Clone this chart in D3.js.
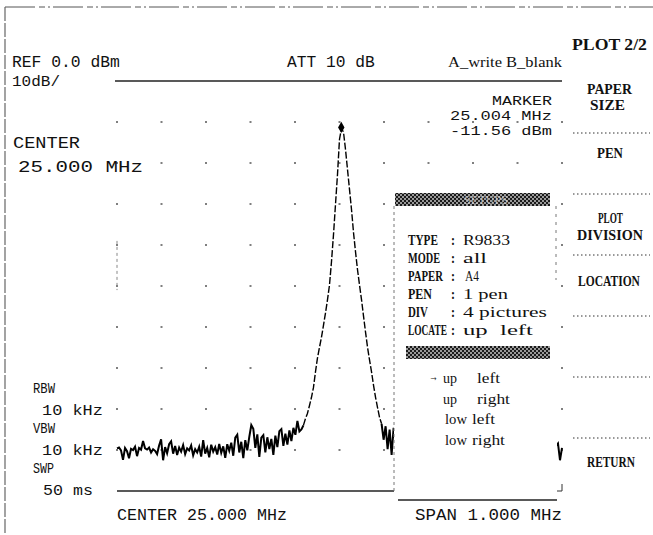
<!DOCTYPE html>
<html><head><meta charset="utf-8">
<script src="https://cdn.jsdelivr.net/npm/d3@7/dist/d3.min.js"></script>
<style>html,body{margin:0;padding:0;background:#fff;overflow:hidden}</style>
</head><body><svg id="c" width="653" height="535"></svg>
<script>
// ================= DATA =================
const sweepStartMHz = 24.5;
const sweepStopMHz = 25.5;
const refLevelDbm = 0;
const bottomLevelDbm = -100;
// trace levels (dBm), one per sweep point, evenly spaced from start to stop
const traceDbm = [
 -89.6,-89.4,-90.1,-92.4,-89.5,-90.3,-92.0,-89.7,-90.0,-89.2,
 -91.5,-89.5,-89.9,-87.8,-89.6,-89.9,-89.4,-90.6,-89.8,-90.2,
 -91.0,-88.9,-87.4,-92.5,-89.3,-90.8,-88.6,-87.9,-90.9,-89.0,
 -91.2,-89.4,-90.4,-88.8,-91.0,-89.6,-90.1,-88.9,-91.3,-89.8,
 -90.6,-89.2,-91.6,-87.6,-90.9,-89.5,-91.8,-88.7,-90.4,-89.3,
 -91.1,-88.5,-90.7,-89.1,-91.9,-88.6,-90.2,-88.2,-91.4,-87.0,
 -86.3,-90.6,-88.0,-92.0,-87.6,-90.1,-86.8,-83.9,-84.8,-89.5,
 -86.2,-91.7,-87.0,-86.4,-90.6,-86.9,-89.8,-87.3,-91.2,-86.5,
 -89.3,-85.4,-84.9,-89.0,-86.0,-88.7,-85.2,-87.8,-84.6,-86.3,
 -82.9,-85.5,-85.0,-84.0,-82.4,-81.1,-79.2,-77.2,-74.8,-71.0,
 -67.6,-65.0,-62.5,-59.6,-56.6,-53.4,-49.8,-44.1,-37.5,-30.1,
 -22.8,-14.2,-11.56,-12.5,-16.7,-21.6,-26.5,-31.4,-37.0,-41.7,
 -46.1,-49.8,-53.4,-57.4,-61.3,-65.0,-68.1,-71.0,-74.3,-77.2,
 -79.7,-82.1,-83.6,-87.5,-84.2,-89.8,-85.0,-91.2,-84.6,-88.0,
 -82.8,
 -88.4,-90.6,-87.9,-91.2,-89.0,-90.3,-88.1,-91.5,-89.4,-90.0,
 -88.7,-91.8,-89.2,-90.5,-88.3,-91.0,-89.7,-90.2,-88.9,-91.4,
 -89.1,-90.7,-88.5,-91.6,-89.5,-90.1,-88.2,-91.1,-89.8,-90.4,
 -88.6,-91.7,-89.3,-90.8,-88.8,-91.3,-89.6,-90.0,-88.4,-91.9,
 -89.0,-90.6,-88.7,-91.2,-89.4,-90.3,-88.1,-91.5,-89.9,-90.2,
 -88.6,-91.0,-89.2,-90.9,-88.3,-91.4,-89.7,-90.5,-88.9,-91.8,
 -89.1,-90.1,-88.5,-91.3,-89.5,-90.7,-88.2,-91.6,-89.8,-90.0,
 -88.8,-91.1,-89.3,-90.4,-88.4,-91.7,-89.6,-90.8,
 -89.0,-88.4,-92.5,-89.5
];
const markerFreqMHz = [25.004];
const markerLevelDbm = [-11.56];

const headerTexts = ["REF 0.0 dBm", "10dB/", "ATT 10 dB", "A_write B_blank"];
const markerTexts = ["MARKER", "25.004 MHz", "-11.56 dBm"];
const centerTexts = ["CENTER", "25.000 MHz"];
const bwTexts = ["RBW", "10 kHz", "VBW", "10 kHz", "SWP", "50 ms"];
const footerTexts = ["CENTER 25.000 MHz", "SPAN 1.000 MHz"];
const softkeyTitle = "PLOT 2/2";
const softkeyLines = ["PAPER", "SIZE", "PEN", "PLOT", "DIVISION", "LOCATION", "RETURN"];
const popupTitle = "SETUPS";
const popupKeys = ["TYPE", "MODE", "PAPER", "PEN", "DIV", "LOCATE"];
const popupValues = ["R9833", "all", "A4", "1 pen", "4 pictures", "up  left"];
const locationOptions = [["up", "left"], ["up", "right"], ["low", "left"], ["low", "right"]];

// ================= DRAW =================
const svg = d3.select("#c");
const x = d3.scaleLinear().domain([sweepStartMHz, sweepStopMHz]).range([117, 562]);
const y = d3.scaleLinear().domain([refLevelDbm, bottomLevelDbm]).range([81, 491]);
const step = (sweepStopMHz - sweepStartMHz) / (traceDbm.length - 1);
const trace = traceDbm.map((v, i) => ({f: sweepStartMHz + i * step, v, i}));

const MONO = "'Liberation Mono', 'DejaVu Sans Mono', monospace";
const SERIF = "'Liberation Serif', 'DejaVu Serif', serif";
// text squeezed horizontally to span x0..x1
function T(s, x0, x1, yb, fam, size, fill, weight) {
  const t = svg.append("text").attr("x", 0).attr("y", 0)
    .attr("font-family", fam).attr("font-size", size).attr("fill", fill || "#111")
    .attr("font-weight", weight || "normal")
    .style("white-space", "pre").text(s);
  const w = t.node().getComputedTextLength() || 1;
  t.attr("transform", `translate(${x0},${yb}) scale(${((x1 - x0) / w).toFixed(4)},1)`);
  return t;
}

// pattern for hatched bars
const defs = svg.append("defs");
const pat = defs.append("pattern").attr("id", "hatch").attr("width", 4).attr("height", 4)
  .attr("patternUnits", "userSpaceOnUse");
pat.append("rect").attr("width", 4).attr("height", 4).attr("fill", "#999");
pat.append("rect").attr("x", 0).attr("y", 0).attr("width", 2).attr("height", 2).attr("fill", "#1a1a1a");
pat.append("rect").attr("x", 2).attr("y", 2).attr("width", 2).attr("height", 2).attr("fill", "#1a1a1a");

// page borders
svg.append("line").attr("x1", 5).attr("x2", 653).attr("y1", 7).attr("y2", 7)
  .attr("stroke", "#555").attr("stroke-width", 1).attr("stroke-dasharray", "30 4 6 3 2 3");
svg.append("line").attr("x1", 5).attr("x2", 5).attr("y1", 7).attr("y2", 535)
  .attr("stroke", "#666").attr("stroke-width", 1.2).attr("stroke-dasharray", "14 2");

// graticule dots
const gx = d3.range(0, 11).map(k => sweepStartMHz + k * (sweepStopMHz - sweepStartMHz) / 10);
const gy = y.ticks(10).filter(v => v < refLevelDbm && v > bottomLevelDbm);
const dots = [];
gx.forEach(f => gy.forEach(v => dots.push([f, v])));
svg.append("g").selectAll("rect").data(dots).join("rect")
  .attr("x", d => x(d[0]) - 1).attr("y", d => y(d[1]) - 0.75)
  .attr("width", 2).attr("height", 1.5).attr("fill", "#555");
svg.append("line").attr("x1", x(sweepStartMHz)).attr("x2", x(sweepStartMHz))
  .attr("y1", y(-39)).attr("y2", y(-51)).attr("stroke", "#888").attr("stroke-dasharray", "3 3");

// top & bottom graticule lines
svg.append("line").attr("x1", 115).attr("x2", x(sweepStopMHz)).attr("y1", y(refLevelDbm)).attr("y2", y(refLevelDbm))
  .attr("stroke", "#222").attr("stroke-width", 1.4);
svg.append("line").attr("x1", x(sweepStartMHz)).attr("x2", 397).attr("y1", y(bottomLevelDbm)).attr("y2", y(bottomLevelDbm))
  .attr("stroke", "#222").attr("stroke-width", 1.4);

// trace: noise solid & dense, steep skirts dashed
const line = d3.line().x(d => x(d.f)).y(d => y(d.v));
svg.append("path").datum(trace.filter(d => d.i <= 93)).attr("d", line).attr("fill", "none")
  .attr("stroke", "#000").attr("stroke-width", 2);
svg.append("path").datum(trace.filter(d => d.i >= 93 && d.i <= 132)).attr("d", line).attr("fill", "none")
  .attr("stroke", "#000").attr("stroke-width", 1.4).attr("stroke-dasharray", "7 2");
svg.append("path").datum(trace.filter(d => d.i >= 132)).attr("d", line).attr("fill", "none")
  .attr("stroke", "#000").attr("stroke-width", 2);

// marker
svg.append("g").selectAll("path").data(markerFreqMHz).join("path")
  .attr("transform", (d, i) => `translate(${x(d)},${y(markerLevelDbm[i]) - 1})`)
  .attr("d", d3.symbol().type(d3.symbolDiamond).size(36)).attr("fill", "#000");

// popup panel (covers trace)
svg.append("rect").attr("x", 394).attr("y", 189).attr("width", 163).attr("height", 303).attr("fill", "#fff");
svg.append("line").attr("x1", 394).attr("x2", 394).attr("y1", 206).attr("y2", 492)
  .attr("stroke", "#777").attr("stroke-dasharray", "3 3");
svg.append("line").attr("x1", 556).attr("x2", 556).attr("y1", 206).attr("y2", 280)
  .attr("stroke", "#777").attr("stroke-dasharray", "3 5");
svg.append("path").attr("d", "M557,491 L562,491 L562,484").attr("fill", "none").attr("stroke", "#333");
svg.append("rect").attr("x", 395).attr("y", 193).attr("width", 155).attr("height", 13).attr("fill", "url(#hatch)");
T(popupTitle, 464, 508, 204, SERIF, 13, "#eee").attr("opacity", 0.6);
svg.append("rect").attr("x", 406).attr("y", 346).attr("width", 144).attr("height", 13).attr("fill", "url(#hatch)");
svg.append("line").attr("x1", 398).attr("x2", 557).attr("y1", 500).attr("y2", 500)
  .attr("stroke", "#222").attr("stroke-width", 1.4);

// popup rows
const keyEnds = [438, 440, 443, 432, 428, 447];
const valEnds = [510, 487, 479, 508, 547, 533];
popupKeys.forEach((k, i) => {
  const yb = 245 + i * 18;
  T(k, 408, keyEnds[i], yb, SERIF, 15, null, "bold");
  T(":", 451, 455, yb, SERIF, 15, null, "bold");
  T(popupValues[i], i === 2 ? 465 : 463, valEnds[i], yb, SERIF, 15);
});
// location options
T("\u2192", 429, 438, 381, SERIF, 14, null, "bold");
locationOptions.forEach((o, i) => {
  const yb = 383 + i * 20.5;
  const low = o[0] === "low";
  T(o[0], low ? 445 : 443, low ? 467 : 457, yb, SERIF, 15);
  const x0 = low ? 472 : 477;
  T(o[1], x0, x0 + (o[1] === "left" ? 23 : 33), yb, SERIF, 15);
});

// header texts
T(headerTexts[0], 12, 120, 67, MONO, 16);
T(headerTexts[1], 12, 60, 86, MONO, 15);
T(headerTexts[2], 287, 375, 67, MONO, 16);
T(headerTexts[3], 448, 562, 67, SERIF, 15);
// marker readout
T(markerTexts[0], 492, 552, 104.5, MONO, 13);
T(markerTexts[1], 450, 552, 119.5, MONO, 13);
T(markerTexts[2], 450, 552, 134.5, MONO, 13);
// center
T(centerTexts[0], 13, 80, 148, MONO, 17);
T(centerTexts[1], 18, 143, 172, MONO, 17);
// bandwidths
const bwX = [[33, 55], [42, 103], [33, 55], [42, 103], [33, 54], [43, 93]];
const bwY = [393, 415, 433, 455, 473, 495];
bwTexts.forEach((s, i) => T(s, bwX[i][0], bwX[i][1], bwY[i], MONO, 15));
// footer
T(footerTexts[0], 117, 287, 520, MONO, 16);
T(footerTexts[1], 415, 562, 520, MONO, 16);

// softkeys
T(softkeyTitle, 572, 647, 50, SERIF, 17, null, "bold");
const skX = [[587, 632], [590, 625], [597, 623], [598, 623], [577, 643], [578, 640], [587, 635]];
const skY = [94, 110, 158, 223, 240, 286, 467];
const skSize = [14, 14, 15, 14, 14, 15, 15];
softkeyLines.forEach((s, i) => T(s, skX[i][0], skX[i][1], skY[i], SERIF, skSize[i], null, "bold"));
[133, 194, 255, 316, 377, 438].forEach(sy => {
  svg.append("line").attr("x1", 573).attr("x2", 650).attr("y1", sy).attr("y2", sy)
    .attr("stroke", "#333").attr("stroke-width", 1).attr("stroke-dasharray", "1.5 2.5");
});
</script></body></html>
